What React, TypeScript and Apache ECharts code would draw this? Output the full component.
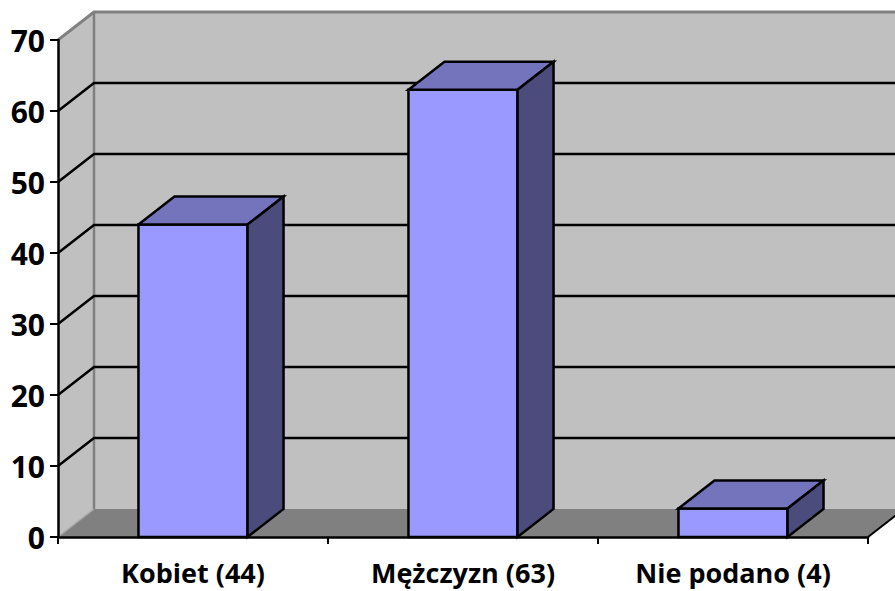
import React, { useEffect, useRef } from "react";
import * as echarts from "echarts";

const categories = ["Kobiet (44)", "Mężczyzn (63)", "Nie podano (4)"];
const values = [44, 63, 4];
const yMax = 70;
const yInterval = 10;
const gridValues = [10, 20, 30, 40, 50, 60];

const DX = 36;
const DY = -28;

const FRONT = "#9999FF";
const TOP = "#7474BC";
const SIDE = "#4B4B7C";
const WALL = "#C0C0C0";
const FLOOR = "#808080";
const EDGE = "#808080";

export default function App() {
  const ref = useRef<HTMLDivElement>(null);
  useEffect(() => {
    if (!ref.current) return;
    const chart = echarts.init(ref.current, undefined, { renderer: "svg" });

    const wallsRender = (params: any, api: any) => {
      const cs = params.coordSys;
      const L = cs.x, R = cs.x + cs.width, T = cs.y, B = cs.y + cs.height;
      return {
        type: "group",
        children: [
          { type: "rect", shape: { x: L + DX, y: T + DY, width: R - L, height: B - T }, style: { fill: WALL } },
          { type: "polygon", shape: { points: [[L, T], [L + DX, T + DY], [L + DX, B + DY], [L, B]] }, style: { fill: WALL } },
          { type: "polygon", shape: { points: [[L, B], [L + DX, B + DY], [R + DX, B + DY], [R, B]] }, style: { fill: FLOOR } },
          { type: "polyline", shape: { points: [[L, T], [L + DX, T + DY], [R + DX + 20, T + DY]] }, style: { stroke: EDGE, lineWidth: 3, fill: "none" } },
          { type: "line", shape: { x1: L + DX, y1: T + DY, x2: L + DX, y2: B + DY }, style: { stroke: EDGE, lineWidth: 2.5 } },
          { type: "line", shape: { x1: L, y1: B, x2: L + DX, y2: B + DY }, style: { stroke: "#A8A8A8", lineWidth: 1.5 } },
          { type: "line", shape: { x1: R, y1: B, x2: R + DX, y2: B + DY }, style: { stroke: "#000", lineWidth: 2 } },
        ],
      };
    };

    const gridRender = (params: any, api: any) => {
      const cs = params.coordSys;
      const L = cs.x, R = cs.x + cs.width;
      const y = api.coord([0, api.value(1)])[1];
      return {
        type: "polyline",
        shape: { points: [[L, y], [L + DX, y + DY], [R + DX + 20, y + DY]] },
        style: { stroke: "#000", lineWidth: 2.5, fill: "none" },
      };
    };

    const barRender = (params: any, api: any) => {
      const idx = api.value(0);
      const v = api.value(1);
      const top = api.coord([idx, v]);
      const base = api.coord([idx, 0]);
      const w = api.size([1, 0])[0] * 0.404;
      const x0 = top[0] - w / 2, x1 = top[0] + w / 2, yT = top[1], yB = base[1];
      const st = { stroke: "#000", lineWidth: 2.5, lineJoin: "miter" };
      return {
        type: "group",
        children: [
          { type: "rect", shape: { x: x0, y: yT, width: w, height: yB - yT }, style: { ...st, fill: FRONT } },
          { type: "polygon", shape: { points: [[x0, yT], [x0 + DX, yT + DY], [x1 + DX, yT + DY], [x1, yT]] }, style: { ...st, fill: TOP } },
          { type: "polygon", shape: { points: [[x1, yT], [x1 + DX, yT + DY], [x1 + DX, yB + DY], [x1, yB]] }, style: { ...st, fill: SIDE } },
        ],
      };
    };

    chart.setOption({
      animation: false,
      backgroundColor: "#FFFFFF",
      grid: { left: 58, right: 27, top: 40, bottom: 54, containLabel: false },
      xAxis: {
        type: "category",
        data: categories,
        boundaryGap: true,
        axisLine: { show: true, lineStyle: { color: "#000", width: 2.5 } },
        axisTick: { show: true, alignWithLabel: false, length: 7, lineStyle: { color: "#000", width: 2 } },
        axisLabel: { margin: 22, color: "#000", fontFamily: "Open Sans", fontWeight: "bold", fontSize: 27 },
        splitLine: { show: false },
        z: 5,
      },
      yAxis: {
        type: "value",
        min: 0,
        max: yMax,
        interval: yInterval,
        axisLine: { show: true, lineStyle: { color: "#000", width: 2.5 } },
        axisTick: { show: true, inside: false, length: 8, lineStyle: { color: "#000", width: 2 } },
        axisLabel: { margin: 13, color: "#000", fontFamily: "Open Sans", fontWeight: "bold", fontSize: 30 },
        splitLine: { show: false },
        z: 5,
      },
      series: [
        { type: "custom", name: "walls", renderItem: wallsRender, data: [[0, 0]], clip: false, silent: true, z: -2 },
        { type: "custom", name: "grid", renderItem: gridRender, data: gridValues.map((v) => [0, v]), clip: false, silent: true, z: -1 },
        { type: "custom", name: "bars", renderItem: barRender, data: values.map((v, i) => [i, v]), clip: false, z: 3 },
      ],
    });
    return () => chart.dispose();
  }, []);
  return <div ref={ref} style={{ position: "fixed", left: 0, top: 0, width: 895, height: 591 }} />;
}
